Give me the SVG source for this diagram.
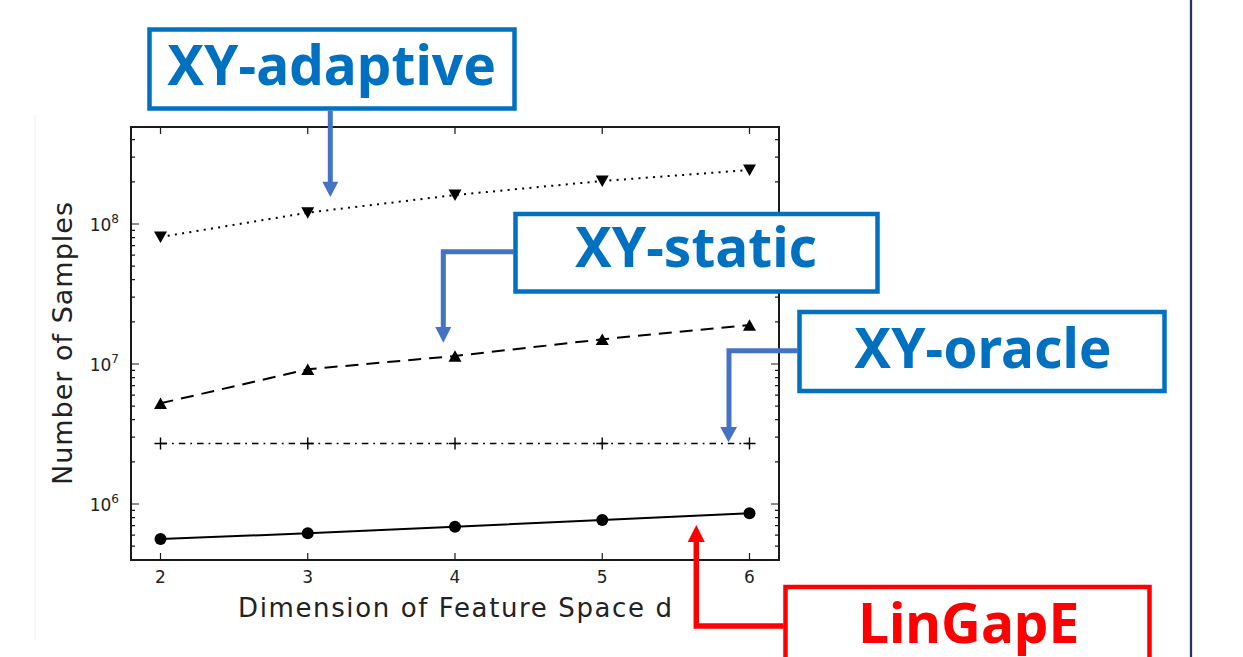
<svg xmlns="http://www.w3.org/2000/svg" width="1243" height="657" viewBox="0 0 1243 657">
<style>
.ax{stroke:#1a1a1a;stroke-width:2;fill:none}
.tk{stroke:#1a1a1a;stroke-width:1.2;fill:none}
.pt{font-family:"DejaVu Sans",sans-serif;fill:#222}
.lab{font-family:"Noto Sans",sans-serif;font-weight:bold;font-size:55px;text-anchor:middle}
.bbox{fill:#fff;stroke:#0070C0;stroke-width:4.5}
.rbox{fill:#fff;stroke:#FF0000;stroke-width:4.5}
.bconn{stroke:#4472C4;stroke-width:5;fill:none}
.rconn{stroke:#FF0000;stroke-width:5.5;fill:none}
</style>
<rect width="1243" height="657" fill="#fff"/>
<line x1="35" y1="114" x2="35" y2="640" stroke="#f0f0f0" stroke-width="1"/>
<line x1="1191" y1="0" x2="1191" y2="657" stroke="#1F3864" stroke-width="2.3"/>

<g id="plot">
  <rect x="131" y="127" width="648" height="433" class="ax"/>
  <!-- x ticks -->
  <path class="tk" d="M160.5 560v-7M307.75 560v-7M455 560v-7M602.25 560v-7M749.5 560v-7M160.5 127v7M307.75 127v7M455 127v7M602.25 127v7M749.5 127v7"/>
  <!-- y major ticks -->
  <path class="tk" d="M131 224h8M131 364h8M131 504h8M779 224h-8M779 364h-8M779 504h-8"/>
  <!-- y minor ticks -->
  <path class="tk" d="M131 546.1h4M131 535.1h4M131 525.7h4M131 517.6h4M131 510.4h4M131 461.9h4M131 437.2h4M131 419.7h4M131 406.1h4M131 395.1h4M131 385.7h4M131 377.6h4M131 370.4h4M131 321.9h4M131 297.2h4M131 279.7h4M131 266.1h4M131 255.1h4M131 245.7h4M131 237.6h4M131 230.4h4M131 181.9h4M131 157.2h4M131 139.7h4M779 546.1h-4M779 535.1h-4M779 525.7h-4M779 517.6h-4M779 510.4h-4M779 461.9h-4M779 437.2h-4M779 419.7h-4M779 406.1h-4M779 395.1h-4M779 385.7h-4M779 377.6h-4M779 370.4h-4M779 321.9h-4M779 297.2h-4M779 279.7h-4M779 266.1h-4M779 255.1h-4M779 245.7h-4M779 237.6h-4M779 230.4h-4M779 181.9h-4M779 157.2h-4M779 139.7h-4"/>
  <!-- tick labels -->
  <g class="pt" font-size="17" text-anchor="middle">
    <text x="160.5" y="582.5">2</text>
    <text x="307.75" y="582.5">3</text>
    <text x="455" y="582.5">4</text>
    <text x="602.25" y="582.5">5</text>
    <text x="749.5" y="582.5">6</text>
  </g>
  <g class="pt" font-size="17" text-anchor="end">
    <text x="119" y="231">10<tspan dy="-8" font-size="12">8</tspan></text>
    <text x="119" y="371">10<tspan dy="-8" font-size="12">7</tspan></text>
    <text x="119" y="511">10<tspan dy="-8" font-size="12">6</tspan></text>
  </g>
  <text class="pt" x="455" y="617" font-size="26" text-anchor="middle" textLength="434" lengthAdjust="spacing">Dimension of Feature Space d</text>
  <text class="pt" transform="translate(71.5,343.5) rotate(-90)" x="0" y="0" font-size="27" text-anchor="middle" textLength="283" lengthAdjust="spacing">Number of Samples</text>

  <!-- series -->
  <polyline fill="none" stroke="#000" stroke-width="2" stroke-dasharray="2 5.3" points="160.5,237 307.75,212.7 455,195 602.25,181 749.5,170"/>
  <polyline fill="none" stroke="#000" stroke-width="2" stroke-dasharray="13 8" points="160.5,403.3 307.75,369.3 455,356 602.25,339.3 749.5,325"/>
  <polyline fill="none" stroke="#000" stroke-width="1.6" stroke-dasharray="6.5 5 1.8 5" points="160.5,443.5 749.5,443.5"/>
  <polyline fill="none" stroke="#000" stroke-width="2" points="160.5,539 307.75,533.3 455,526.7 602.25,520 749.5,513.3"/>
  <g fill="#000">
    <path d="M154 231.5h13l-6.5 11.5z M301.25 207.2h13l-6.5 11.5z M448.5 189.5h13l-6.5 11.5z M595.75 175.5h13l-6.5 11.5z M743 164.5h13l-6.5 11.5z"/>
    <path d="M154 409h13l-6.5-11.5z M301.25 375h13l-6.5-11.5z M448.5 361.7h13l-6.5-11.5z M595.75 345h13l-6.5-11.5z M743 330.7h13l-6.5-11.5z"/>
    <circle cx="160.5" cy="539" r="6"/>
    <circle cx="307.75" cy="533.3" r="6"/>
    <circle cx="455" cy="526.7" r="6"/>
    <circle cx="602.25" cy="520" r="6"/>
    <circle cx="749.5" cy="513.3" r="6"/>
  </g>
  <path stroke="#000" stroke-width="1.4" fill="none" d="M154.5 443.5h12M160.5 437.5v12M301.75 443.5h12M307.75 437.5v12M449 443.5h12M455 437.5v12M596.25 443.5h12M602.25 437.5v12M743.5 443.5h12M749.5 437.5v12"/>
</g>

<g id="connectors">
  <line class="bconn" x1="330.3" y1="111" x2="330.3" y2="183"/>
  <polygon fill="#4472C4" points="322.3,181.7 338.3,181.7 330.3,197"/>
  <polyline class="bconn" points="513.5,251.7 443.3,251.7 443.3,328"/>
  <polygon fill="#4472C4" points="435.3,327 451.3,327 443.3,342.7"/>
  <polyline class="bconn" points="797.5,350.8 729,350.8 729,428"/>
  <polygon fill="#4472C4" points="720.3,427 737,427 728.5,442.3"/>
  <polyline class="rconn" points="783.5,626 696.3,626 696.3,541"/>
  <polygon fill="#FF0000" points="687.7,542 704.8,542 696.3,525"/>
</g>

<g id="node-xy-adaptive">
  <rect class="bbox" x="149.5" y="29.5" width="365" height="79"/>
  <text class="lab" x="331.7" y="85" fill="#0070C0">XY-adaptive</text>
</g>
<g id="node-xy-static">
  <rect class="bbox" x="515.5" y="214" width="362" height="77.5"/>
  <text class="lab" x="696" y="266.7" fill="#0070C0">XY-static</text>
</g>
<g id="node-xy-oracle">
  <rect class="bbox" x="799.5" y="312" width="365" height="79"/>
  <text class="lab" x="983" y="368.3" fill="#0070C0">XY-oracle</text>
</g>
<g id="node-lingape">
  <rect class="rbox" x="785.5" y="587" width="364" height="79"/>
  <text class="lab" x="968.8" y="642.7" fill="#FF0000">LinGapE</text>
</g>
</svg>
